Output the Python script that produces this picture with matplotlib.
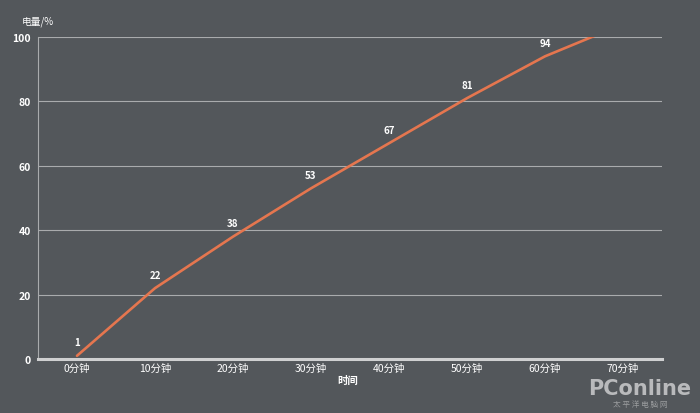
import matplotlib
matplotlib.use('Agg')
import matplotlib.pyplot as plt
import numpy as np

plt.rcParams['font.family'] = ['Noto Sans CJK SC', 'DejaVu Sans']

# data
categories = ['0分钟', '10分钟', '20分钟', '30分钟', '40分钟', '50分钟', '60分钟', '70分钟']
battery = [1, 22, 38, 53, 67, 81, 94, 104]   # last point is above 100 and gets clipped
y_ticks = [0, 20, 40, 60, 80, 100]

bg = '#53575b'
line_color = '#e5764f'
grid_color = '#a9abad'

fig = plt.figure(figsize=(7, 4.14), dpi=100, facecolor=bg)
ax = fig.add_axes([38/700, 1 - 360/414, 624/700, 322/414])
ax.set_facecolor(bg)

x = np.arange(len(categories))
ax.plot(x, battery, color=line_color, lw=1.9, solid_capstyle='round', zorder=3)

# value labels (skip the clipped one)
for xi, v in zip(x, battery):
    if v <= 100:
        ax.annotate(str(v), (xi, v), xytext=(0, 6), textcoords='offset points',
                    ha='center', va='bottom', color='white', fontsize=7,
                    fontweight='bold', zorder=4)

ax.set_xlim(-0.5, len(categories) - 0.5)
ax.set_ylim(0, 100)
ax.set_yticks(y_ticks)
ax.set_yticklabels([str(t) for t in y_ticks], fontweight='bold')
ax.set_xticks(x)
ax.set_xticklabels(categories)
ax.tick_params(axis='both', length=0, colors='white', labelsize=7.5)
ax.tick_params(axis='x', pad=3)
ax.tick_params(axis='y', pad=5)

for t in y_ticks[1:]:
    ax.axhline(t, color=grid_color, lw=0.8, zorder=1)

for s in ['top', 'right']:
    ax.spines[s].set_visible(False)
ax.spines['left'].set_color(grid_color)
ax.spines['left'].set_linewidth(0.8)
ax.spines['bottom'].set_color('#cfd0d1')
ax.spines['bottom'].set_linewidth(2.2)

fig.text(22/700, 1 - 22/414, '电量/%', color='white', fontsize=7, va='center', ha='left')
fig.text(348/700, 1 - 381/414, '时间', color='white', fontsize=7.5, fontweight='bold',
         va='center', ha='center')

# watermark
fig.text(640/700, 1 - 389/414, 'PConline', color='#b9babc', fontsize=15,
         fontweight='bold', ha='center', va='center', family='DejaVu Sans')
fig.text(640/700, 1 - 405/414, '太 平 洋 电 脑 网', color='#9c9ea0', fontsize=5.5,
         ha='center', va='center')

fig.savefig('out.png', dpi=100, facecolor=bg)
